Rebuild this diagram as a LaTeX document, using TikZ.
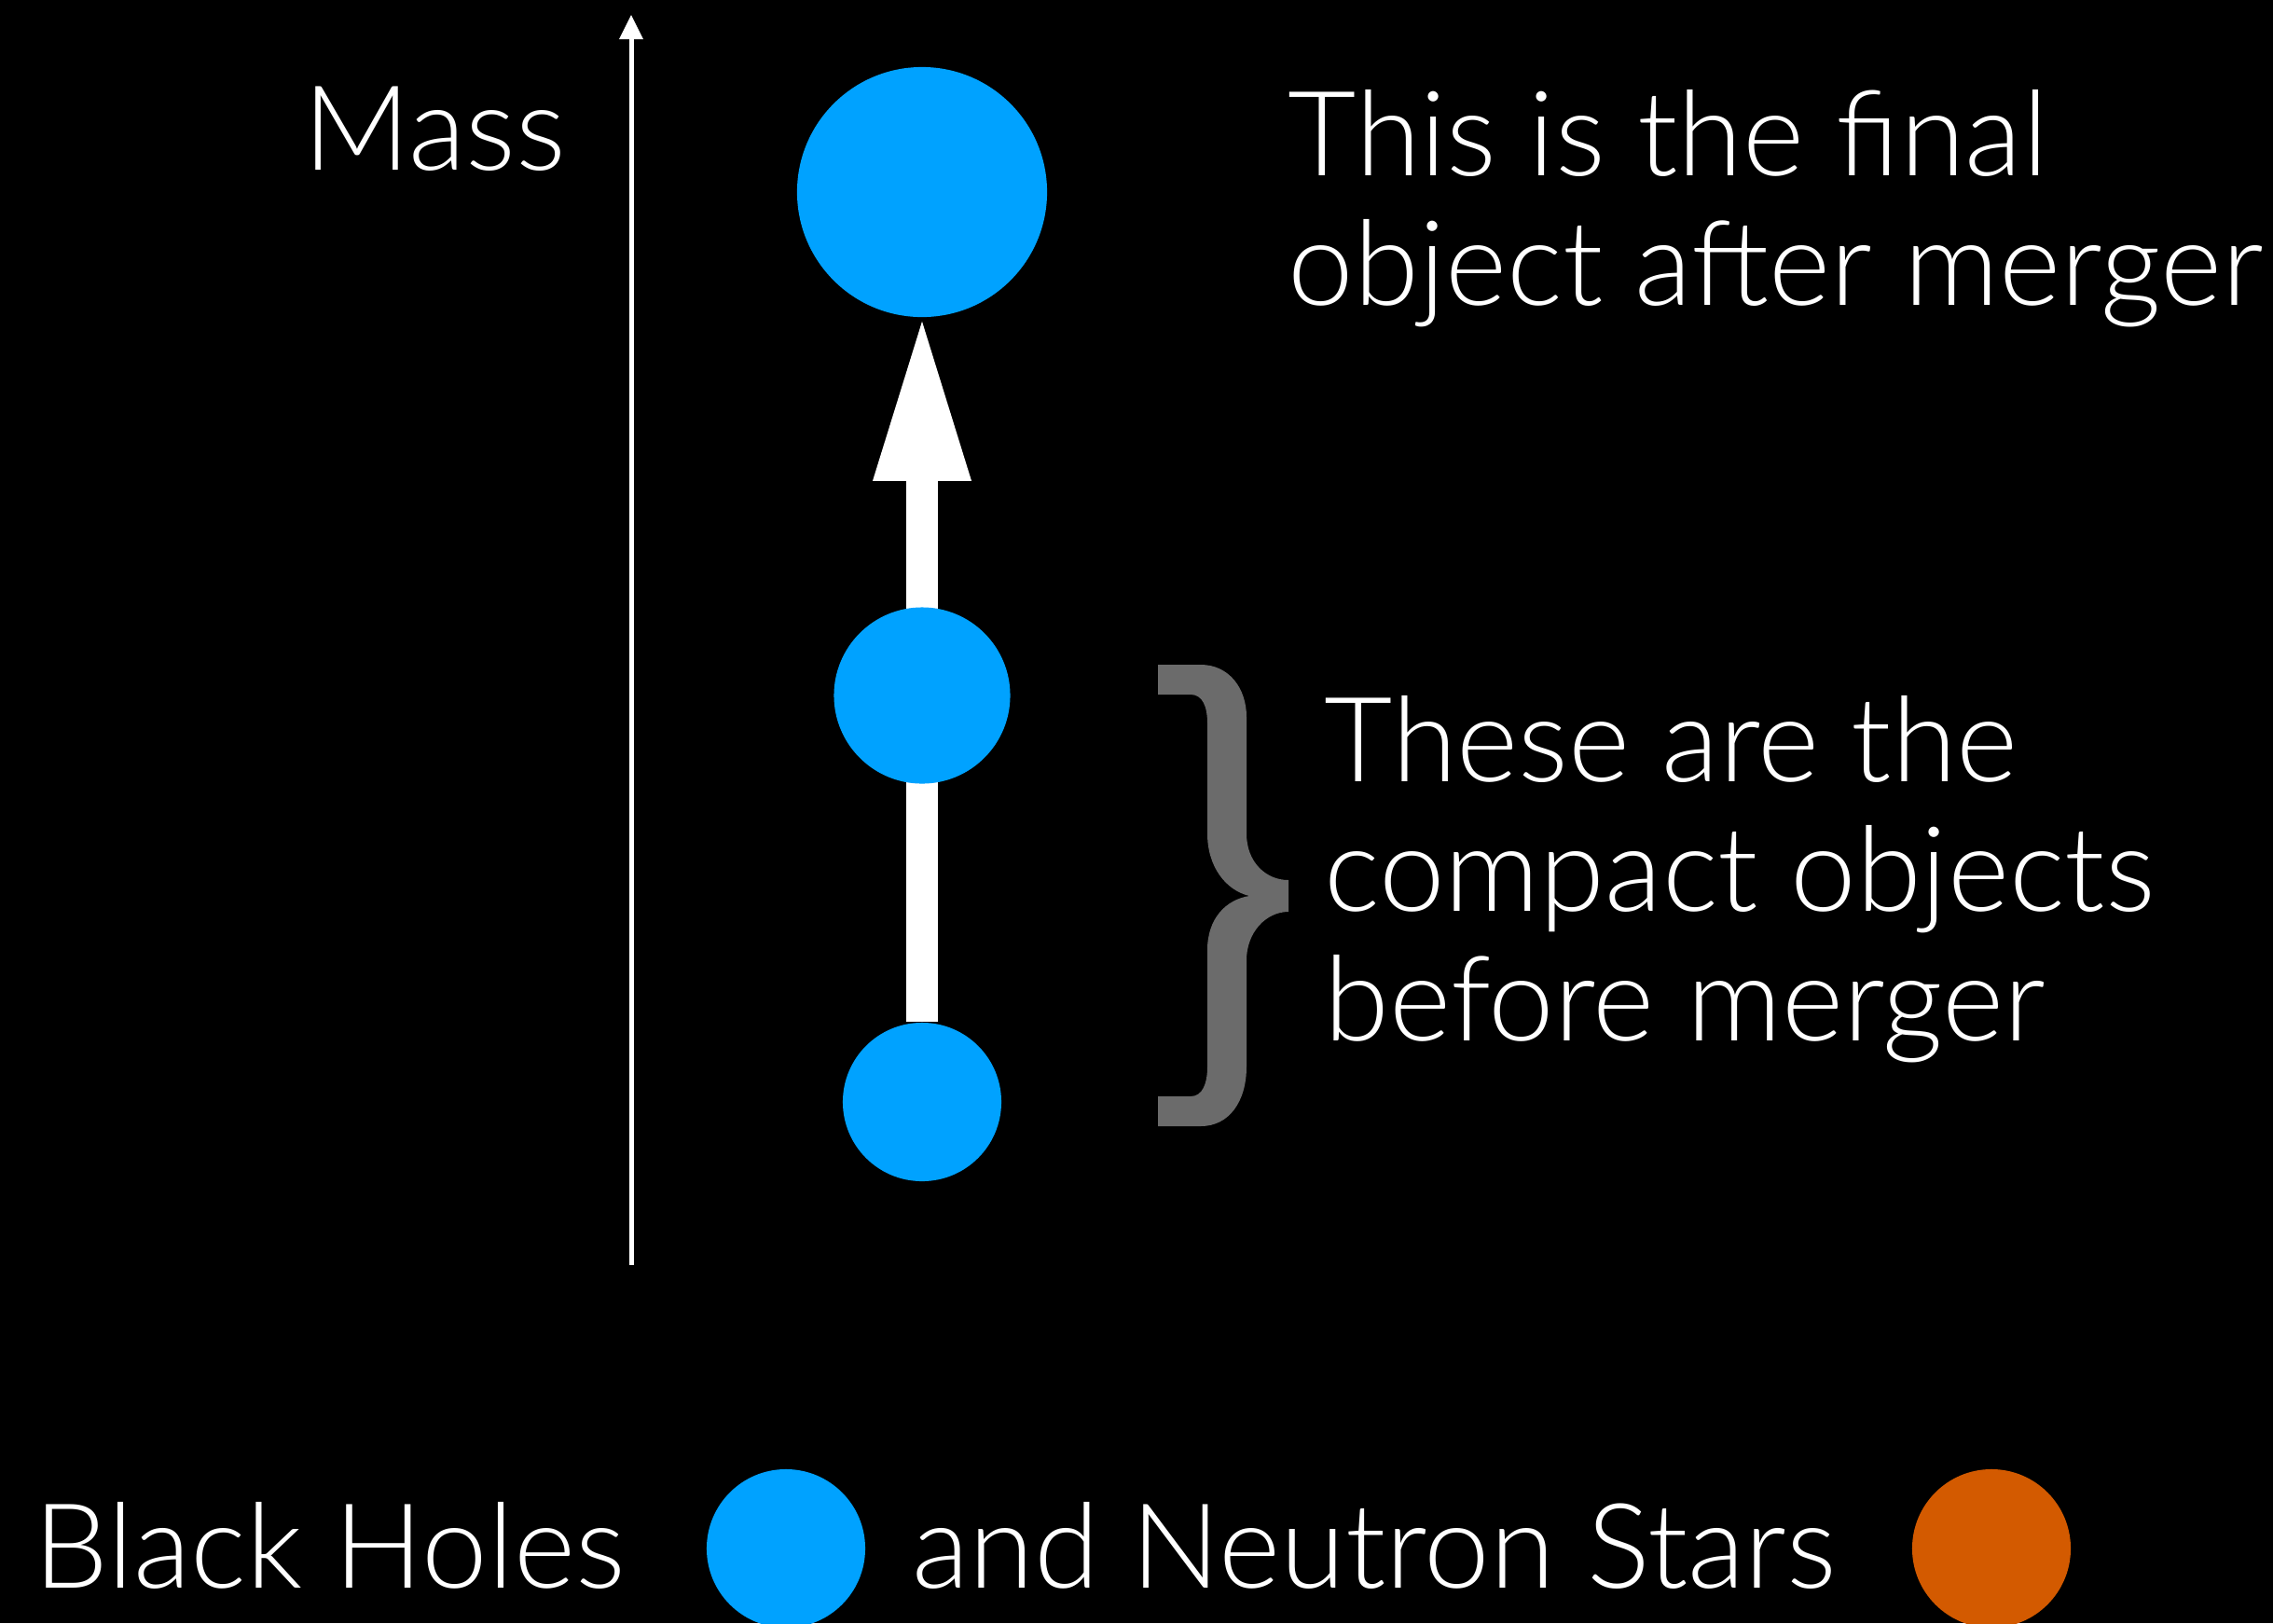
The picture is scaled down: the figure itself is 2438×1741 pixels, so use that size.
\documentclass[tikz,border=0pt]{standalone}
\usepackage{fontspec}
\setmainfont{Lato Light}
\usepackage{tikz}
\usetikzlibrary{positioning, arrows.meta, backgrounds}
\definecolor{BHBlue}{HTML}{00A2FF}
\definecolor{NSOrange}{HTML}{D35A00}
\definecolor{BraceGrey}{HTML}{6B6B6B}
\tikzset{
  blob/.style={circle, fill=#1, inner sep=0pt},
  words/.style={text=white, inner sep=0pt, font=\fontsize{36}{39.5}\selectfont},
  massaxis/.style={white, line width=0.05cm,
    -{Triangle[length=0.26cm, width=0.26cm, line width=0pt]}},
  growth/.style={white, line width=0.34cm, shorten >=0.04cm,
    -{Triangle[length=1.71cm, width=1.06cm, line width=0pt]}}
}

\begin{document}
\begin{tikzpicture}[x=0.01cm, y=-0.01cm]
\useasboundingbox (0,0) rectangle (2438,1741);

% the three compact objects
\node[blob=BHBlue, minimum size=2.68cm] (final) at (989,206) {};
\node[blob=BHBlue, minimum size=1.89cm] (mid) at (989,746) {};
\node[blob=BHBlue, minimum size=1.70cm] (low) at (989,1182) {};

\begin{scope}[on background layer]
  \fill[black] (0,0) rectangle (2438,1741);
  \draw[growth] (low.north) -- (final.south);
\end{scope}

% mass axis
\coordinate (axbot) at (677,1357);
\coordinate (axtop) at (677,16);
\draw[massaxis] (axbot) -- (axtop);
\node[words, anchor=base east] (masslbl) at (608,182) {Mass};

% brace round the two objects before merger
\fill[BraceGrey] (1242,713) -- (1288,713)
  .. controls (1318,713) and (1337,738) .. (1337,769) -- (1337,894)
  .. controls (1337,925) and (1358,944) .. (1382,944) -- (1382,978)
  .. controls (1358,978) and (1337,1000) .. (1337,1030) -- (1337,1144)
  .. controls (1337,1182) and (1318,1208) .. (1288,1208) -- (1242,1208)
  -- (1242,1176) -- (1277,1176)
  .. controls (1290,1176) and (1295,1162) .. (1295,1144) -- (1295,1019)
  .. controls (1295,985) and (1315,965) .. (1340,961)
  .. controls (1315,955) and (1295,930) .. (1295,894) -- (1295,776)
  .. controls (1295,758) and (1290,745) .. (1277,745) -- (1242,745) -- cycle;

% captions (base anchor sits on the last line)
\node[words, anchor=base west, align=left] (finaltxt) at (1381,327)
  {This is the final\\object after merger};
\node[words, anchor=base west, align=left] (beforetxt) at (1420,1116)
  {These are the\\compact objects\\before merger};

% legend
\node[words, anchor=base west] (bhtxt) at (36,1703) {Black Holes};
\node[blob=BHBlue, minimum size=1.70cm] (bhdot) at (843,1661) {};
\node[words, anchor=base west] (nstxt) at (978,1703) {and Neutron Stars};
\node[blob=NSOrange, minimum size=1.70cm] (nsdot) at (2136,1661) {};
\end{tikzpicture}
\end{document}
